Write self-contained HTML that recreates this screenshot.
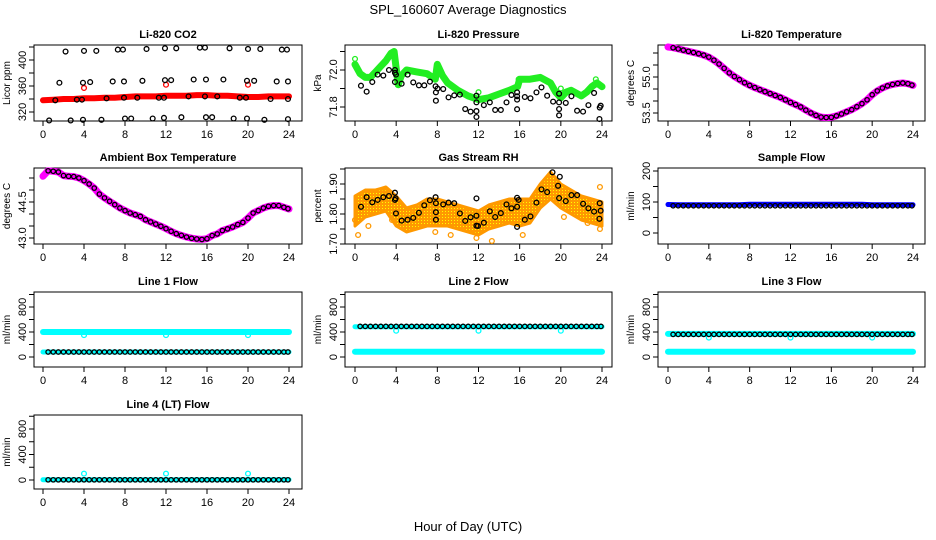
<!DOCTYPE html>
<html><head><meta charset="utf-8">
<style>
html,body{margin:0;padding:0;background:#fff;}
svg{display:block;font-family:"Liberation Sans",Arial,sans-serif;}
</style></head>
<body>
<svg id="chart" width="936" height="540" viewBox="0 0 936 540" xmlns="http://www.w3.org/2000/svg">
<defs>
<pattern id="rhpat" width="3" height="3" patternUnits="userSpaceOnUse">
<rect width="3" height="3" fill="#ff9900"/><rect x="1" y="1" width="1" height="1" fill="#ffff00"/>
</pattern>
</defs>
<text x="468" y="14" text-anchor="middle" font-size="13">SPL_160607  Average Diagnostics</text>
<text x="468" y="531" text-anchor="middle" font-size="13">Hour of Day (UTC)</text>
</svg>
<script>
// ---------- data ----------
const X_TICKS = [0,4,8,12,16,20,24];
const HOURS = [0,1,2,3,4,5,6,7,8,9,10,11,12,13,14,15,16,17,18,19,20,21,22,23,24];
const HALF = [0,0.5,1,1.5,2,2.5,3,3.5,4,4.5,5,5.5,6,6.5,7,7.5,8,8.5,9,9.5,10,10.5,11,11.5,12,12.5,13,13.5,14,14.5,15,15.5,16,16.5,17,17.5,18,18.5,19,19.5,20,20.5,21,21.5,22,22.5,23,23.5,24];
const HALF_B = [0.5,1,1.5,2,2.5,3,3.5,4,4.5,5,5.5,6,6.5,7,7.5,8,8.5,9,9.5,10,10.5,11,11.5,12,12.5,13,13.5,14,14.5,15,15.5,16,16.5,17,17.5,18,18.5,19,19.5,20,20.5,21,21.5,22,22.5,23,23.5,23.9];

// CO2
const CO2_RED = [338,339,340,340,341,341,342,342,343,344,344,344,345,345,345,346,346,345,345,344,343,343,344,344,344];
const CO2_RED_OUT_T = [4,12,20];
const CO2_RED_OUT_V = [357,362,362];
const CO2_BLK_T = [0.6,1.2,1.6,2.2,2.7,3.3,3.8,3.9,4.0,3.9,4.6,5.2,5.7,6.2,6.8,7.3,7.8,7.9,7.9,8.0,8.6,9.2,9.7,10.1,10.7,11.3,11.8,11.8,11.9,11.9,12.5,13.0,13.5,14.2,14.7,15.3,15.8,15.9,15.8,15.9,16.5,17.0,17.6,18.2,18.6,19.2,19.8,19.9,19.9,20.0,20.6,21.2,21.6,22.2,22.8,23.3,23.8,23.9,23.9,23.9];
const CO2_BLK_V = [307,338,365,413,307,339,339,308,414,365,366,414,308,341,367,416,416,367,342,310,310,342,368,417,310,342,342,311,369,418,369,418,312,344,370,419,419,370,344,312,312,344,370,418,310,342,342,310,368,417,368,417,308,340,367,416,416,367,340,309];

// Pressure
const P_GRN_T = [0,0.5,1,1.5,2,2.5,3,3.5,3.8,4.2,4.5,5,6,7,7.8,8,8.5,9,10,11,12,13,14,15,15.8,16,17,18,19,19.5,20,20.5,21,22,22.5,23,23.5,24];
const P_GRN_V = [72.03,71.98,71.96,71.96,71.99,72.02,72.05,72.09,72.1,71.92,71.97,72.0,71.99,71.98,71.95,72.03,71.97,71.93,71.89,71.86,71.84,71.85,71.87,71.89,71.91,71.95,71.95,71.96,71.93,71.88,71.85,71.88,71.89,71.86,71.88,71.91,71.93,71.91];
const P_GRN_OUT_T = [0,4,8,12,15.9,20,23.4];
const P_GRN_OUT_V = [72.06,72.01,72.01,71.88,71.95,71.9,71.95];
const P_BLK_T = [0.58,1.13,1.68,2.2,2.75,3.3,3.88,3.88,3.88,3.98,4.53,5.11,5.66,6.21,6.73,7.28,7.83,7.86,7.86,8.02,8.57,9.09,9.64,10.19,10.71,11.23,11.8,11.8,11.8,11.8,12.52,13.1,13.62,14.17,14.72,15.2,15.75,15.75,15.75,15.75,16.5,17.05,17.63,18.12,18.67,19.25,19.83,19.83,19.83,19.83,20.48,21.03,21.58,22.16,22.68,23.23,23.75,23.78,23.87];
const P_BLK_V = [71.915,71.883,71.935,71.975,71.97,72.0,72.0,71.985,71.935,71.975,71.926,71.975,71.933,71.917,71.917,71.937,71.912,71.879,71.834,71.9,71.897,71.852,71.863,71.867,71.789,71.775,71.778,71.861,71.825,71.746,71.81,71.825,71.784,71.784,71.825,71.865,71.879,71.858,71.84,71.788,71.854,71.847,71.879,71.906,71.861,71.829,71.872,71.825,71.789,71.755,71.822,71.858,71.78,71.775,71.81,71.876,71.735,71.797,71.807];

// Li-820 temperature
const LT_MAG = [56.25,56.22,56.17,56.12,56.07,56.02,55.97,55.91,55.83,55.7,55.54,55.36,55.17,55.02,54.89,54.76,54.65,54.56,54.47,54.39,54.31,54.23,54.15,54.05,53.94,53.85,53.75,53.62,53.5,53.4,53.33,53.31,53.32,53.38,53.46,53.55,53.64,53.76,53.89,54.05,54.26,54.42,54.54,54.63,54.69,54.73,54.75,54.72,54.65];
const LT_BLK = [56.22,56.17,56.12,56.07,56.02,55.97,55.91,55.83,55.7,55.54,55.36,55.17,55.02,54.89,54.76,54.65,54.56,54.47,54.39,54.31,54.23,54.15,54.05,53.94,53.85,53.75,53.62,53.5,53.4,53.33,53.31,53.32,53.38,53.46,53.55,53.64,53.76,53.89,54.05,54.26,54.42,54.54,54.63,54.69,54.73,54.75,54.72,54.66];

// Ambient box temperature
const AB_MAG = [45.57,45.8,45.78,45.75,45.6,45.57,45.56,45.5,45.39,45.25,45.08,44.83,44.67,44.53,44.39,44.25,44.14,44.04,43.97,43.9,43.76,43.67,43.58,43.49,43.39,43.28,43.18,43.11,43.04,42.99,42.96,42.94,42.97,43.1,43.17,43.31,43.38,43.46,43.56,43.65,43.83,44.04,44.14,44.25,44.32,44.35,44.35,44.28,44.21];
const AB_BLK = [45.8,45.78,45.75,45.6,45.57,45.56,45.5,45.39,45.25,45.08,44.83,44.67,44.53,44.39,44.25,44.14,44.04,43.97,43.9,43.76,43.67,43.58,43.49,43.39,43.28,43.18,43.11,43.04,42.99,42.96,42.94,42.97,43.1,43.17,43.31,43.38,43.46,43.56,43.65,43.83,44.04,44.14,44.25,44.32,44.35,44.35,44.28,44.22];

// Gas stream RH
const RH_UP = [1.86,1.88,1.88,1.89,1.86,1.82,1.83,1.85,1.85,1.84,1.83,1.82,1.81,1.83,1.84,1.85,1.85,1.85,1.90,1.94,1.90,1.88,1.86,1.85,1.84];
const RH_LO = [1.76,1.79,1.80,1.81,1.76,1.74,1.75,1.76,1.76,1.76,1.75,1.74,1.73,1.75,1.76,1.77,1.76,1.77,1.82,1.85,1.82,1.80,1.78,1.77,1.76];
const RH_OUT_T = [0,0.3,1.3,2.8,3.6,5.4,7.8,9.3,11.8,13.3,16.3,20.3,22.6,23.8,23.8];
const RH_OUT_V = [1.78,1.73,1.76,1.87,1.78,1.81,1.74,1.73,1.72,1.71,1.73,1.79,1.77,1.89,1.75];
const RH_BLK_T = [0.58,1.13,1.68,2.2,2.75,3.3,3.88,3.88,3.95,3.98,4.53,5.11,5.66,6.21,6.73,7.28,7.83,7.86,7.86,7.86,8.57,9.09,9.64,10.19,10.71,11.23,11.8,11.8,11.8,11.95,12.52,13.1,13.62,14.17,14.72,15.2,15.75,15.75,15.75,15.9,16.5,17.05,17.63,18.12,18.67,19.19,19.73,19.9,19.83,20.48,21.03,21.58,22.16,22.68,23.23,23.75,23.78,23.87];
const RH_BLK_V = [1.824,1.856,1.839,1.847,1.856,1.86,1.871,1.847,1.852,1.802,1.778,1.781,1.787,1.804,1.829,1.846,1.856,1.836,1.806,1.781,1.832,1.838,1.836,1.802,1.777,1.789,1.794,1.852,1.761,1.76,1.771,1.809,1.79,1.803,1.832,1.819,1.854,1.824,1.757,1.847,1.781,1.792,1.838,1.882,1.873,1.939,1.894,1.924,1.853,1.843,1.863,1.863,1.834,1.819,1.808,1.784,1.836,1.811];

// Sample flow
const SF_BLUE = [92,91,91,91,91,91,91,91,93,93,93,93,93,93,93,93,93,93,93,93,91,91,91,91,91];
const SF_BLK = [88,88,88,88,88,88,88,88,88,88,88,88,88,88,88,88,88,88,88,88,88,88,88,88,88,88,88,88,88,88,88,88,88,88,88,88,88,88,88,88,88,88,88,88,88,88,88,88];

// Line flows
const L1_CYAN_HI = [400,400,400,400,400,400,400,400,400,400,400,400,400,400,400,400,400,400,400,400,400,400,400,400,400];
const L1_CYAN_LO = [80,80,80,80,80,80,80,80,80,80,80,80,80,80,80,80,80,80,80,80,80,80,80,80,80];
const L1_OUT_T = [4,12,20];
const L1_OUT_V = [350,350,350];
const L1_BLK = [80,80,80,80,80,80,80,80,80,80,80,80,80,80,80,80,80,80,80,80,80,80,80,80,80,80,80,80,80,80,80,80,80,80,80,80,80,80,80,80,80,80,80,80,80,80,80,80];

const L2_CYAN_HI = [485,485,485,485,485,485,485,485,485,485,485,485,485,485,485,485,485,485,485,485,485,485,485,485,485];
const L2_CYAN_LO = [85,85,85,85,85,85,85,85,85,85,85,85,85,85,85,85,85,85,85,85,85,85,85,85,85];
const L2_OUT_T = [4,12,20];
const L2_OUT_V = [420,420,420];
const L2_BLK = [490,490,490,490,490,490,490,490,490,490,490,490,490,490,490,490,490,490,490,490,490,490,490,490,490,490,490,490,490,490,490,490,490,490,490,490,490,490,490,490,490,490,490,490,490,490,490,490];

const L3_CYAN_HI = [370,370,370,370,370,370,370,370,370,370,370,370,370,370,370,370,370,370,370,370,370,370,370,370,370];
const L3_CYAN_LO = [85,85,85,85,85,85,85,85,85,85,85,85,85,85,85,85,85,85,85,85,85,85,85,85,85];
const L3_OUT_T = [4,12,20];
const L3_OUT_V = [310,310,310];
const L3_BLK = [362,362,362,362,362,362,362,362,362,362,362,362,362,362,362,362,362,362,362,362,362,362,362,362,362,362,362,362,362,362,362,362,362,362,362,362,362,362,362,362,362,362,362,362,362,362,362,362];

const L4_CYAN = [5,5,5,5,5,5,5,5,5,5,5,5,5,5,5,5,5,5,5,5,5,5,5,5,5];
const L4_OUT_T = [4,12,20];
const L4_OUT_V = [100,100,100];
const L4_BLK = [3,3,3,3,3,3,3,3,3,3,3,3,3,3,3,3,3,3,3,3,3,3,3,3,3,3,3,3,3,3,3,3,3,3,3,3,3,3,3,3,3,3,3,3,3,3,3,3];

// ---------- drawing ----------
const NS = "http://www.w3.org/2000/svg";
const svg = document.getElementById('chart');
function mk(tag, attrs, parent){
  const el = document.createElementNS(NS, tag);
  for (const k in attrs) el.setAttribute(k, attrs[k]);
  (parent || svg).appendChild(el);
  return el;
}
const COLS = [[34,302,43,289],[345,612,355,602],[658,925,668,913]];
const ROWS = [[45,121],[168,244],[292,367],[415,489]];

function panel(key, col, row, title, ylab, yref, yticks, ylabels, fmt){
  const c = COLS[col], r = ROWS[row];
  const g = mk('g', {});
  
  
  const sx = t => c[2] + (c[3]-c[2]) * t / 24;
  const sy = v => yref[1] + (yref[3]-yref[1]) * (v - yref[0]) / (yref[2]-yref[0]);
  const box = mk('rect', {x:c[0], y:r[0], width:c[1]-c[0], height:r[1]-r[0], fill:'none', stroke:'#000', 'stroke-width':1}, g);
  
  
  const tt = mk('text', {x:(c[0]+c[1])/2, y:r[0]-7, 'text-anchor':'middle', 'font-size':11, 'font-weight':'bold'}, g);
  
  
  tt.textContent = title;
  const yl = mk('text', {transform:'translate('+(c[0]-24)+','+((r[0]+r[1])/2)+') rotate(-90)', 'text-anchor':'middle', 'font-size':10}, g);
  
  
  yl.textContent = ylab;
  const xa = mk('g', {}, g);
  
  
  mk('line', {x1:sx(X_TICKS[0]), x2:sx(X_TICKS[X_TICKS.length-1]), y1:r[1], y2:r[1], stroke:'#000'}, xa);
  X_TICKS.forEach(t => {
    mk('line', {x1:sx(t), x2:sx(t), y1:r[1], y2:r[1]+5, stroke:'#000'}, xa);
    const lb = mk('text', {x:sx(t), y:r[1]+17, 'text-anchor':'middle', 'font-size':11}, xa);
    
    
    lb.textContent = t;
  });
  const ya = mk('g', {}, g);
  
  
  mk('line', {x1:c[0], x2:c[0], y1:sy(yticks[0]), y2:sy(yticks[yticks.length-1]), stroke:'#000'}, ya);
  yticks.forEach(v => mk('line', {x1:c[0]-5, x2:c[0], y1:sy(v), y2:sy(v), stroke:'#000'}, ya));
  ylabels.forEach(v => {
    const lb = mk('text', {transform:'translate('+(c[0]-8)+','+sy(v)+') rotate(-90)', 'text-anchor':'middle', 'font-size':11}, ya);
    
    
    lb.textContent = fmt(v);
  });
  return {g, sx, sy, key};
}
function band(p, xs, ys, color, w, name){
  let d = '';
  xs.forEach((t,i) => { d += (i ? 'L' : 'M') + p.sx(t).toFixed(1) + ',' + p.sy(ys[i]).toFixed(1); });
  const el = mk('path', {d, fill:'none', stroke:color, 'stroke-width':w, 'stroke-linejoin':'round', 'stroke-linecap':'round'}, p.g);
  
  
}
function pts(p, xs, ys, color, name, rr){
  const gg = mk('g', {}, p.g);
  
  
  xs.forEach((t,i) => {
    const el = mk('circle', {cx:p.sx(t), cy:p.sy(ys[i]), r:rr||2.4, fill:'none', stroke:color, 'stroke-width':1.3}, gg);
    
    
  });
}
function area(p, xs, up, lo, fill, name){
  let d = '';
  xs.forEach((t,i) => { d += (i ? 'L' : 'M') + p.sx(t).toFixed(1) + ',' + p.sy(up[i]).toFixed(1); });
  for (let i = xs.length-1; i >= 0; i--) d += 'L' + p.sx(xs[i]).toFixed(1) + ',' + p.sy(lo[i]).toFixed(1);
  d += 'Z';
  const el = mk('path', {d, fill, stroke:'#ff9900', 'stroke-width':3, 'stroke-linejoin':'round'}, p.g);
  
  
}
const f0 = v => String(v);
const f1 = v => v.toFixed(1);
const f2 = v => v.toFixed(2);

let p = panel('co2', 0, 0, 'Li-820 CO2', 'Licor ppm', [320,112,400,60], [320,340,360,380,400,420], [320,360,400], f0);
band(p, HOURS, CO2_RED, '#ff0000', 6, 'red-series');
pts(p, CO2_RED_OUT_T, CO2_RED_OUT_V, '#ff0000', 'red-outliers');
pts(p, CO2_BLK_T, CO2_BLK_V, '#000', 'black-points');

p = panel('pressure', 1, 0, 'Li-820 Pressure', 'kPa', [71.8,107,72.0,70], [71.8,71.9,72.0,72.1], [71.8,72.0], f1);
band(p, P_GRN_T, P_GRN_V, '#22ee22', 7, 'green-series');
pts(p, P_GRN_OUT_T, P_GRN_OUT_V, '#22ee22', 'green-outliers');
pts(p, P_BLK_T, P_BLK_V, '#000', 'black-points');

p = panel('licor-temp', 2, 0, 'Li-820 Temperature', 'degrees C', [53.5,113,55.0,77], [53.5,54,54.5,55,55.5,56], [53.5,55.0], f1);
band(p, HALF, LT_MAG, '#ff00ff', 7, 'magenta-series');
pts(p, HALF_B, LT_BLK, '#000', 'black-points', 2.2);

p = panel('ambient-temp', 0, 1, 'Ambient Box Temperature', 'degrees C', [43.0,238,44.5,202], [43,43.5,44,44.5,45,45.5], [43.0,44.5], f1);
band(p, HALF, AB_MAG, '#ff00ff', 7, 'magenta-series');
pts(p, HALF_B, AB_BLK, '#000', 'black-points', 2.2);

p = panel('gas-rh', 1, 1, 'Gas Stream RH', 'percent', [1.70,244,1.90,184], [1.70,1.75,1.80,1.85,1.90,1.95], [1.70,1.80,1.90], f2);
area(p, HOURS, RH_UP, RH_LO, 'url(#rhpat)', 'orange-cloud');
pts(p, RH_OUT_T, RH_OUT_V, '#ff9900', 'orange-outliers');
pts(p, RH_BLK_T, RH_BLK_V, '#000', 'black-points');

p = panel('sample-flow', 2, 1, 'Sample Flow', 'ml/min', [0,233,200,171], [0,50,100,150,200], [0,100,200], f0);
band(p, HOURS, SF_BLUE, '#0000ff', 5, 'blue-series');
pts(p, HALF_B, SF_BLK, '#000', 'black-points', 2.2);

p = panel('line1-flow', 0, 2, 'Line 1 Flow', 'ml/min', [0,357,800,307], [0,200,400,600,800,1000], [0,400,800], f0);
band(p, HOURS, L1_CYAN_HI, '#00ffff', 6, 'cyan-high');
band(p, HOURS, L1_CYAN_LO, '#00ffff', 5, 'cyan-low');
pts(p, L1_OUT_T, L1_OUT_V, '#00ffff', 'cyan-outliers');
pts(p, HALF_B, L1_BLK, '#000', 'black-points', 2.2);

p = panel('line2-flow', 1, 2, 'Line 2 Flow', 'ml/min', [0,357,800,307], [0,200,400,600,800,1000], [0,400,800], f0);
band(p, HOURS, L2_CYAN_HI, '#00ffff', 5, 'cyan-high');
band(p, HOURS, L2_CYAN_LO, '#00ffff', 6, 'cyan-low');
pts(p, L2_OUT_T, L2_OUT_V, '#00ffff', 'cyan-outliers');
pts(p, HALF_B, L2_BLK, '#000', 'black-points', 2.2);

p = panel('line3-flow', 2, 2, 'Line 3 Flow', 'ml/min', [0,357,800,307], [0,200,400,600,800,1000], [0,400,800], f0);
band(p, HOURS, L3_CYAN_HI, '#00ffff', 6, 'cyan-high');
band(p, HOURS, L3_CYAN_LO, '#00ffff', 6, 'cyan-low');
pts(p, L3_OUT_T, L3_OUT_V, '#00ffff', 'cyan-outliers');
pts(p, HALF_B, L3_BLK, '#000', 'black-points', 2.2);

p = panel('line4-flow', 0, 3, 'Line 4 (LT) Flow', 'ml/min', [0,480,800,429], [0,200,400,600,800,1000], [0,400,800], f0);
band(p, HOURS, L4_CYAN, '#00ffff', 5, 'cyan-series');
pts(p, L4_OUT_T, L4_OUT_V, '#00ffff', 'cyan-outliers');
pts(p, HALF_B, L4_BLK, '#000', 'black-points', 2.2);
</script>
</body></html>
